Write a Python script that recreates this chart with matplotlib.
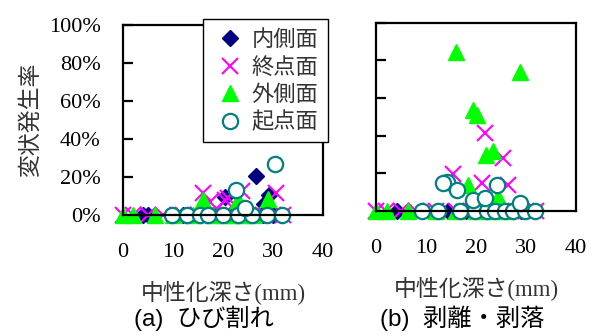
import matplotlib.pyplot as plt

plt.rcParams['font.family'] = ['Liberation Serif', 'Noto Sans CJK JP']

series_names = ['内側面', '終点面', '外側面', '起点面']

# (a) ひび割れ : depth (mm), rate (%)
a_inner_x = [4, 5, 12, 18, 22, 25, 28, 30, 20.4, 26.7, 29.2, 28.2]
a_inner_y = [0, 0, 0, 0, 0, 0, 0, 0, 9.6, 20.7, 10.5, 6]
a_end_x = [0, 2, 5, 8, 12, 15, 18, 20, 22, 24, 26, 28, 30, 32,
           16, 21, 23.8, 30.6, 17.4, 20.4]
a_end_y = [0, 0, 0, 0, 0, 0, 0, 0, 0, 0, 0, 0, 0, 0,
           11.5, 9, 12.5, 11.8, 7, 8]
a_outer_x = [0, 2, 6.5, 10, 14, 18, 20, 22, 24, 26, 16, 23, 29]
a_outer_y = [0, 0, 0, 0, 0, 0, 0, 0, 0, 0, 7.9, 7.9, 8.4]
a_start_x = [9.8, 12.8, 15.4, 17, 20, 23, 25.8, 28.8, 31.8,
             30.4, 22.6, 24.4]
a_start_y = [0, 0, 0, 0, 0, 0, 0, 0, 0,
             26.8, 13, 3.5]

# (b) 剥離・剥落
b_inner_x = [4.2, 14.4, 18, 22, 27, 29]
b_inner_y = [0, 0, 0, 0, 0, 0]
b_end_x = [0, 2, 5, 8, 12, 16, 19, 22, 24, 26, 28, 30, 32,
           21.8, 25.4, 15.4, 21.2, 26.4]
b_end_y = [0, 0, 0, 0, 0, 0, 0, 0, 0, 0, 0, 0, 0,
           41.7, 28, 19.5, 15, 14]
b_outer_x = [0, 2.2, 6.4, 12, 16, 20, 23, 26,
             16, 28.8, 19.4, 20.2, 22, 23.4, 18.4, 24.4]
b_outer_y = [0, 0, 0, 0, 0, 0, 0, 0,
             84.7, 74, 53.5, 51, 30, 32, 14, 7.5]
b_start_x = [9.2, 12.4, 16.8, 19.8, 22.2, 23.8, 25.8, 27.4, 29.8, 31.8,
             14.2, 13.4, 16.2, 24.2, 19.4, 21.8, 28.8]
b_start_y = [0, 0, 0, 0, 0, 0, 0, 0, 0, 0,
             15.6, 14.8, 11, 14, 6, 7, 4]

yticks = [0, 20, 40, 60, 80, 100]
ytick_labels = ['0%', '20%', '40%', '60%', '80%', '100%']
xticks = [0, 10, 20, 30, 40]

styles = [
    dict(marker='D', ms=8.5, color='#000080', mec='#000080'),
    dict(marker='x', ms=12, color='#FF00FF', mew=1.5),
    dict(marker='^', ms=12, color='#00FF00', mec='#00FF00'),
    dict(marker='o', ms=11, mfc='white', mec='#008080', mew=1.6, color='#008080'),
]

fig = plt.figure(figsize=(5.97, 3.36), dpi=100)
ax_a = fig.add_axes([0.206, 0.360, 0.335, 0.566])
ax_b = fig.add_axes([0.630, 0.372, 0.335, 0.560])

panels = [
    (ax_a, [(a_inner_x, a_inner_y), (a_end_x, a_end_y),
            (a_outer_x, a_outer_y), (a_start_x, a_start_y)]),
    (ax_b, [(b_inner_x, b_inner_y), (b_end_x, b_end_y),
            (b_outer_x, b_outer_y), (b_start_x, b_start_y)]),
]

handles = []
for ax, data in panels:
    handles = []
    for (xs, ys), name, st in zip(data, series_names, styles):
        h, = ax.plot(xs, ys, linestyle='none', clip_on=False, label=name, **st)
        handles.append(h)
    ax.set_xlim(0, 40)
    ax.set_ylim(0, 100)
    ax.set_xticks(xticks)
    ax.set_yticks(yticks)
    for s in ax.spines.values():
        s.set_linewidth(1.6)
    ax.tick_params(axis='y', direction='in', length=7, width=1.6, pad=16,
                   labelsize=16)
    ax.tick_params(axis='x', length=0, pad=20, labelsize=16)
    ax.set_xlabel('中性化深さ(mm)', fontsize=16.5, color='#333333', labelpad=14)

ax_a.set_yticklabels(ytick_labels)
ax_b.set_yticklabels([])
ax_a.set_ylabel('変状発生率', fontsize=16.5, color='#333333',
                family=['Noto Sans CJK JP'], labelpad=5)

leg = fig.legend(handles=handles, loc='upper left', bbox_to_anchor=(0.340, 0.943),
                 borderaxespad=0, frameon=True, fancybox=False, edgecolor='black',
                 framealpha=1, prop={'family': ['Noto Sans CJK JP'], 'size': 16},
                 handletextpad=0.2, labelspacing=0.2, borderpad=0.4,
                 handlelength=1.6, labelcolor='#333333')
leg.get_frame().set_linewidth(1.0)

cap_font = ['Liberation Sans', 'Noto Sans CJK JP']
fig.text(0.342, 0.053, '(a)  ひび割れ', ha='center', va='center',
         fontsize=17.5, family=cap_font)
fig.text(0.774, 0.053, '(b)  剥離・剥落', ha='center', va='center',
         fontsize=17.5, family=cap_font)

fig.savefig('out.png', dpi=100)
